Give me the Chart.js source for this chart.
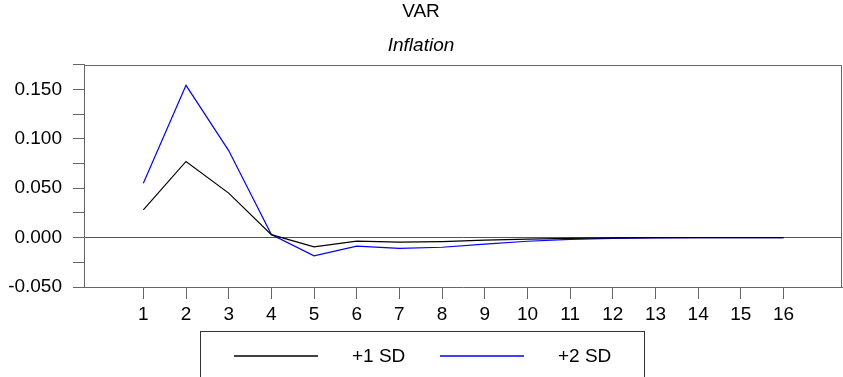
<!DOCTYPE html>
<html>
<head>
<meta charset="utf-8">
<title>VAR – Inflation</title>
<script src="https://cdn.jsdelivr.net/npm/chart.js@4/dist/chart.umd.min.js"></script>
<style>
  html, body { margin: 0; padding: 0; background: #ffffff; }
  #wrap { width: 843px; height: 377px; }
</style>
</head>
<body>
<div id="wrap"><canvas id="chart" width="843" height="377"></canvas></div>
<script>
// Impulse-response horizon (periods)
const periods = [1, 2, 3, 4, 5, 6, 7, 8, 9, 10, 11, 12, 13, 14, 15, 16];

// Response of inflation, one and two standard-deviation shocks
const plusOneSD = [0.028, 0.077, 0.045, 0.003, -0.0094, -0.0035, -0.0047, -0.004,
                   -0.0025, -0.0015, -0.0008, -0.0003, -0.0001, 0.0, 0.0, 0.0];
const plusTwoSD = [0.055, 0.154, 0.088, 0.003, -0.0185, -0.0087, -0.011, -0.0098,
                   -0.0067, -0.0037, -0.0018, -0.0008, -0.0003, -0.0001, 0.0, 0.0];

// Axis tick positions (major every 0.050, minor halfway)
const yTickValues = [-0.05, -0.025, 0, 0.025, 0.05, 0.075, 0.1, 0.125, 0.15, 0.175];
const xTickValues = periods;

const seriesLabels = ['+1 SD', '+2 SD'];
const seriesColors = ['#000000', '#0000ff'];

const FONT = "'Liberation Sans', Arial, sans-serif";
const AXIS_GREY = '#666666';

// Closed frame around the plot area
const frame = {
  id: 'frame',
  afterDraw(chart) {
    const { ctx, chartArea: a } = chart;
    ctx.save();
    ctx.strokeStyle = AXIS_GREY;
    ctx.lineWidth = 1;
    ctx.beginPath();
    ctx.moveTo(Math.round(a.left) + 0.5, Math.round(a.top) + 0.5);
    ctx.lineTo(Math.round(a.right) - 0.5, Math.round(a.top) + 0.5);
    ctx.lineTo(Math.round(a.right) - 0.5, Math.round(a.bottom) + 0.5);
    ctx.stroke();
    ctx.restore();
  }
};

// Boxed legend centred under the axis
const boxedLegend = {
  id: 'boxedLegend',
  afterDraw(chart) {
    const { ctx } = chart;
    const boxW = 444, boxTop = 331.5;
    const boxLeft = Math.round((chart.width - boxW) / 2) + 0.5;
    const rowY = 356;
    ctx.save();
    ctx.lineWidth = 1;
    ctx.strokeStyle = '#333333';
    ctx.strokeRect(boxLeft, boxTop, boxW, 80);
    ctx.font = '19px ' + FONT;
    ctx.textBaseline = 'middle';
    ctx.textAlign = 'left';
    seriesLabels.forEach((label, i) => {
      const x0 = boxLeft + 33.5 + i * 206;
      ctx.beginPath();
      ctx.lineWidth = 1.3;
      ctx.strokeStyle = seriesColors[i];
      ctx.moveTo(x0, rowY);
      ctx.lineTo(x0 + 84, rowY);
      ctx.stroke();
      ctx.fillStyle = '#000000';
      ctx.fillText(label, x0 + 118, rowY + 0.5);
    });
    ctx.restore();
  }
};

const datasets = [plusOneSD, plusTwoSD].map((vals, i) => ({
  label: seriesLabels[i],
  data: periods.map((p, j) => ({ x: p, y: vals[j] })),
  borderColor: seriesColors[i],
  backgroundColor: seriesColors[i],
  borderWidth: 1.2,
  pointRadius: 0,
  tension: 0,
  fill: false
}));

new Chart(document.getElementById('chart'), {
  type: 'line',
  data: { datasets },
  plugins: [frame, boxedLegend],
  options: {
    responsive: false,
    animation: false,
    devicePixelRatio: 1,
    layout: { padding: { left: 0, right: 1, top: 0, bottom: 50 } },
    plugins: {
      legend: { display: false },
      tooltip: { enabled: false },
      title: {
        display: true,
        text: 'VAR',
        color: '#000000',
        font: { family: FONT, size: 19, weight: 'normal', lineHeight: 1.2 },
        padding: { top: 0, bottom: 12 }
      },
      subtitle: {
        display: true,
        text: 'Inflation',
        color: '#000000',
        font: { family: FONT, size: 19, style: 'italic', weight: 'normal', lineHeight: 1.2 },
        padding: { top: 0, bottom: 7 }
      }
    },
    scales: {
      x: {
        type: 'linear',
        min: -0.39,
        max: 17.37,
        afterBuildTicks: (scale) => { scale.ticks = xTickValues.map(v => ({ value: v })); },
        afterFit: (scale) => { scale.height = 40; },
        ticks: {
          color: '#000000',
          font: { family: FONT, size: 19 },
          padding: 4,
          maxRotation: 0,
          autoSkip: false,
          callback: (v) => String(v)
        },
        grid: {
          drawOnChartArea: false,
          color: AXIS_GREY,
          tickLength: 12,
          lineWidth: 1
        },
        border: { display: true, color: AXIS_GREY, width: 1 }
      },
      y: {
        type: 'linear',
        min: -0.05,
        max: 0.175,
        afterBuildTicks: (scale) => { scale.ticks = yTickValues.map(v => ({ value: v })); },
        afterFit: (scale) => { scale.width = 84; },
        ticks: {
          color: '#000000',
          font: { family: FONT, size: 19 },
          padding: 11,
          autoSkip: false,
          callback: (v) => (Math.round(v * 1000) % 50 === 0 ? v.toFixed(3) : '')
        },
        grid: {
          drawOnChartArea: true,
          color: (c) => (c.tick && Math.abs(c.tick.value) < 1e-9 ? '#555555' : 'rgba(0,0,0,0)'),
          tickColor: AXIS_GREY,
          tickLength: 11,
          lineWidth: 1
        },
        border: { display: true, color: AXIS_GREY, width: 1 }
      }
    }
  }
});
</script>
</body>
</html>
